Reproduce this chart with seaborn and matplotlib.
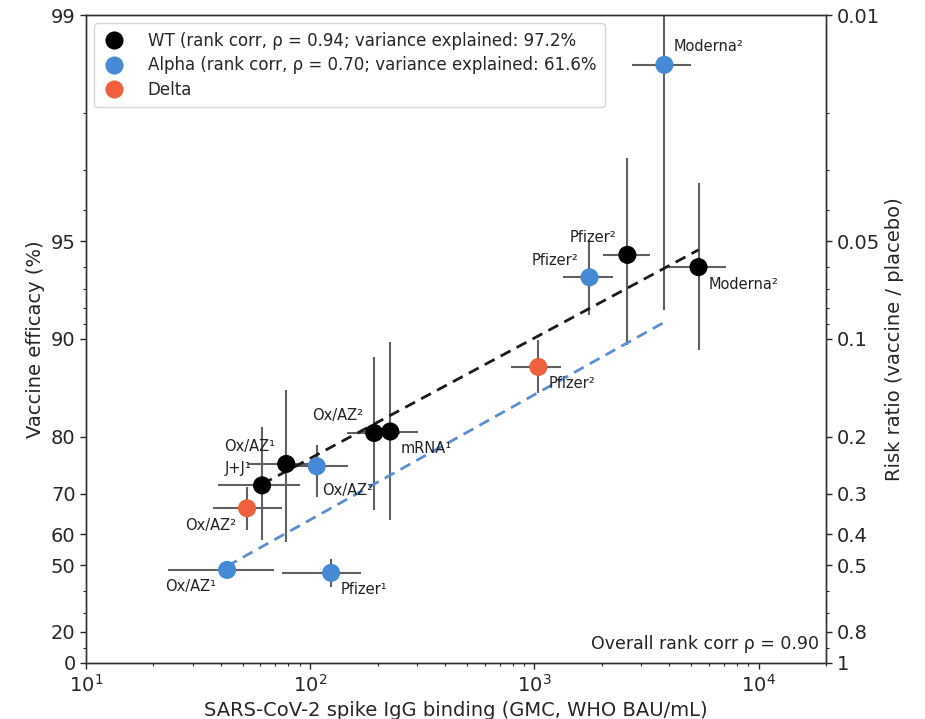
import numpy as np
import pandas as pd
import matplotlib
matplotlib.use("Agg")
import matplotlib.pyplot as plt
from matplotlib.ticker import FixedLocator, FixedFormatter, LogLocator, NullFormatter
import seaborn as sns

# ---------------- data ----------------
variants = ["WT"] * 6 + ["Alpha"] * 5 + ["Delta"] * 2
labels = ["J+J¹", "Ox/AZ¹", "Ox/AZ²", "mRNA¹", "Pfizer²", "Moderna²",
          "Ox/AZ¹", "Pfizer¹", "Ox/AZ²", "Pfizer²", "Moderna²",
          "Ox/AZ²", "Pfizer²"]
igg = [61, 78.2, 193, 227.6, 2600, 5400,
       42.6, 124, 107, 1762, 3802,
       52.3, 1042]
igg_lo = [38.8, 52.9, 146, 170, 2032, 3846,
          23.2, 75, 84, 1346, 2738,
          36.9, 789]
igg_hi = [90.2, 108.6, 252, 303, 3296, 7129,
          69.0, 169, 148, 2253, 5023,
          75, 1321]
risk_ratio = [0.283, 0.243, 0.195, 0.193, 0.055, 0.060,
              0.516, 0.527, 0.247, 0.0645, 0.01425,
              0.333, 0.122]
rr_lo = [0.187, 0.1435, 0.114, 0.102, 0.0276, 0.033,
         0.500, 0.478, 0.212, 0.0494, 0.004,
         0.286, 0.1007]
rr_hi = [0.417, 0.424, 0.337, 0.362, 0.1045, 0.108,
         0.535, 0.582, 0.308, 0.0843, 0.0813,
         0.389, 0.147]
label_side = ["ul", "ul", "ul", "lr", "ul", "lr",
              "ll", "lr", "lr", "ul", "ur",
              "ll", "lr"]

# fitted lines (log10 RR = intercept + slope * log10 IgG)
fit_variants = ["WT", "Alpha"]
fit_slope = [-0.3715, -0.386]
fit_intercept = [0.1115, 0.330]

legend_labels = {
    "WT": "WT (rank corr, ρ = 0.94; variance explained: 97.2%",
    "Alpha": "Alpha (rank corr, ρ = 0.70; variance explained: 61.6%",
    "Delta": "Delta",
}
efficacy_ticks = [99, 95, 90, 80, 70, 60, 50, 20, 0]
rr_tick_labels = ["0.01", "0.05", "0.1", "0.2", "0.3", "0.4", "0.5", "0.8", "1"]

colors = {"WT": "#000000", "Alpha": "#4689D4", "Delta": "#F0603F"}
line_colors = {"WT": "#1a1a1a", "Alpha": "#5B8FD2"}

df = pd.DataFrame(dict(variant=variants, label=labels, igg=igg, igg_lo=igg_lo,
                       igg_hi=igg_hi, rr=risk_ratio, rr_lo=rr_lo, rr_hi=rr_hi,
                       side=label_side))

# ---------------- plot ----------------
sns.set_style("ticks")
plt.rcParams["font.family"] = ["DejaVu Sans"]

fig = plt.figure(figsize=(9.25, 7.19), dpi=100)
ax = fig.add_axes([86 / 925, 1 - 663 / 719, (826 - 86) / 925, (663 - 15) / 719])

# error bars
ax.errorbar(df["igg"], df["rr"],
            xerr=[df["igg"] - df["igg_lo"], df["igg_hi"] - df["igg"]],
            yerr=[df["rr"] - df["rr_lo"], df["rr_hi"] - df["rr"]],
            fmt="none", ecolor="#606060", elinewidth=1.5, capsize=0, zorder=1)

# regression lines
for v, sl, ic in zip(fit_variants, fit_slope, fit_intercept):
    sub = df[df["variant"] == v]
    xs = np.array([sub["igg"].min(), sub["igg"].max()])
    ys = 10 ** (ic + sl * np.log10(xs))
    ax.plot(xs, ys, ls=(0, (4, 2.5)), lw=2.0, color=line_colors[v], zorder=2)

sns.scatterplot(data=df, x="igg", y="rr", hue="variant", palette=colors,
                hue_order=["WT", "Alpha", "Delta"], s=170, edgecolor="none",
                linewidth=0, ax=ax, zorder=3)

# labels
off = {"ul": (-11, 17, "right"), "lr": (10, -17, "left"),
       "ur": (9, 18, "left"), "ll": (-11, -17, "right")}
for _, r in df.iterrows():
    dx, dy, ha = off[r["side"]]
    if r["label"] == "Ox/AZ²" and r["variant"] == "Alpha":
        dx, dy = 5, -24
    ax.annotate(r["label"], (r["igg"], r["rr"]), xytext=(dx, dy),
                textcoords="offset pixels", ha=ha, va="center", fontsize=10.5,
                color="#222222", zorder=4)

ax.set_xscale("log")
ax.set_yscale("log")
ax.set_xlim(10, 2e4)
ax.set_ylim(1, 0.01)

rr_ticks = [1 - e / 100 for e in efficacy_ticks]
ax.yaxis.set_major_locator(FixedLocator(rr_ticks))
ax.yaxis.set_major_formatter(FixedFormatter([str(e) for e in efficacy_ticks]))
ax.yaxis.set_minor_locator(LogLocator(base=10, subs=np.arange(2, 10)))
ax.yaxis.set_minor_formatter(NullFormatter())

ax.set_xlabel("SARS-CoV-2 spike IgG binding (GMC, WHO BAU/mL)", fontsize=14)
ax.set_ylabel("Vaccine efficacy (%)", fontsize=14)
ax.tick_params(axis="both", which="major", labelsize=14, length=4, width=1)
ax.tick_params(axis="both", which="minor", length=2.5, width=0.8)

ax2 = ax.twinx()
ax2.set_yscale("log")
ax2.set_ylim(1, 0.01)
ax2.yaxis.set_major_locator(FixedLocator(rr_ticks))
ax2.yaxis.set_major_formatter(FixedFormatter(rr_tick_labels))
ax2.yaxis.set_minor_locator(LogLocator(base=10, subs=np.arange(2, 10)))
ax2.yaxis.set_minor_formatter(NullFormatter())
ax2.tick_params(axis="y", which="major", labelsize=14, length=4, width=1)
ax2.tick_params(axis="y", which="minor", length=2.5, width=0.8)
ax2.set_ylabel("Risk ratio (vaccine / placebo)", fontsize=14)

for a in (ax, ax2):
    for s in a.spines.values():
        s.set_color("#333333")
        s.set_linewidth(1.0)

handles, labs = ax.get_legend_handles_labels()
ax.legend(handles, [legend_labels[l] for l in labs], loc="upper left",
          fontsize=12, frameon=True, handletextpad=1.3, borderpad=0.5,
          labelspacing=0.4, handlelength=1.4)

ax.text(0.99, 0.015, "Overall rank corr ρ = 0.90", transform=ax.transAxes,
        ha="right", va="bottom", fontsize=12.5, color="#222222")

fig.savefig("out.png", dpi=100)
